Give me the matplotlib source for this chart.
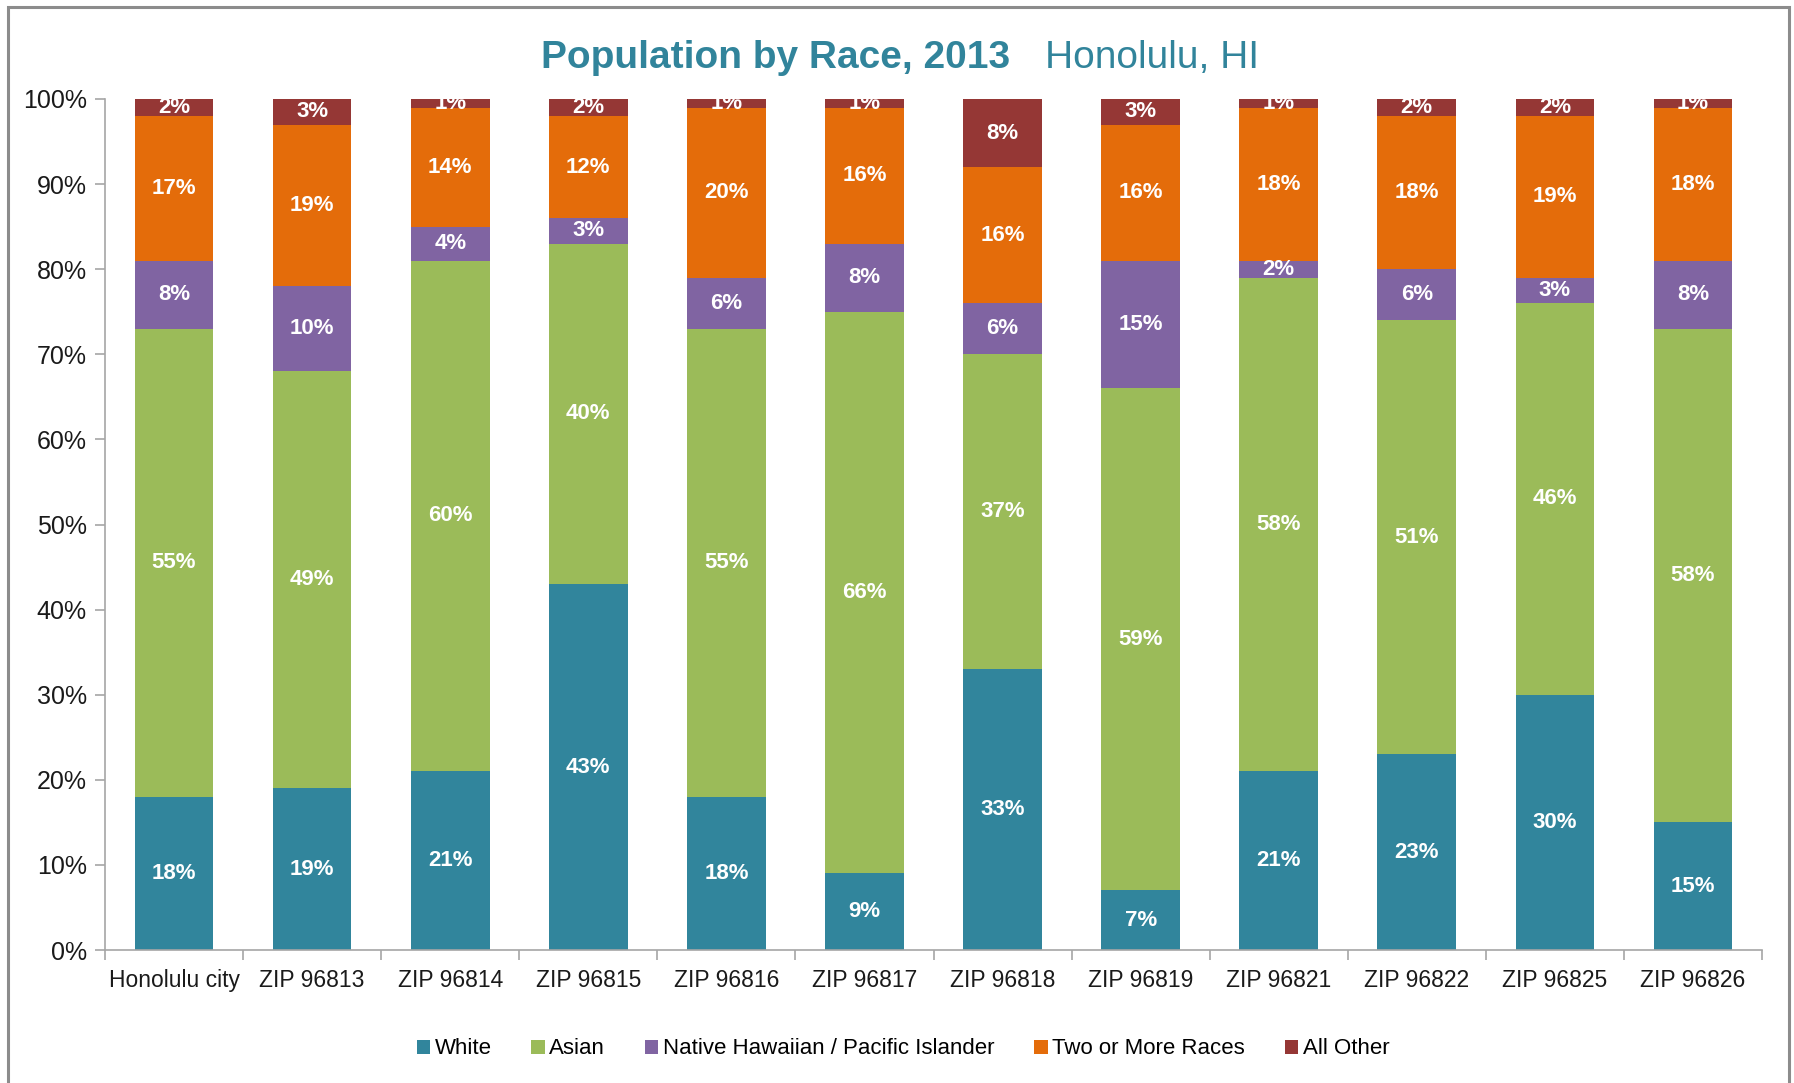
import matplotlib
matplotlib.use("Agg")
import matplotlib.pyplot as plt
import numpy as np
from matplotlib.patches import Rectangle

plt.rcParams['font.family'] = ['Liberation Sans', 'DejaVu Sans']

categories = ["Honolulu city", "ZIP 96813", "ZIP 96814", "ZIP 96815", "ZIP 96816",
              "ZIP 96817", "ZIP 96818", "ZIP 96819", "ZIP 96821", "ZIP 96822",
              "ZIP 96825", "ZIP 96826"]
series_names = ["White", "Asian", "Native Hawaiian / Pacific Islander",
                "Two or More Races", "All Other"]
white = [18, 19, 21, 43, 18, 9, 33, 7, 21, 23, 30, 15]
asian = [55, 49, 60, 40, 55, 66, 37, 59, 58, 51, 46, 58]
nhpi = [8, 10, 4, 3, 6, 8, 6, 15, 2, 6, 3, 8]
two_more = [17, 19, 14, 12, 20, 16, 16, 16, 18, 18, 19, 18]
all_other = [2, 3, 1, 2, 1, 1, 8, 3, 1, 2, 2, 1]
colors = ["#31859C", "#9BBB59", "#8064A2", "#E46C0A", "#953735"]

W, H = 1794, 1083
fig = plt.figure(figsize=(W / 100, H / 100), dpi=100)
ax = fig.add_axes([105 / W, 1 - 950 / H, (1762 - 105) / W, (950 - 99) / H])

data = [white, asian, nhpi, two_more, all_other]
x = np.arange(len(categories))
bottom = np.zeros(len(categories))
for vals, name, col in zip(data, series_names, colors):
    v = np.array(vals, dtype=float)
    ax.bar(x, v, 0.57, bottom=bottom, color=col, label=name, edgecolor='none')
    for xi, b, h in zip(x, bottom, v):
        ax.text(xi, b + h / 2, f"{int(h)}%", ha='center', va='center',
                color='white', fontsize=16, fontweight='bold')
    bottom += v

ax.set_xlim(-0.5, len(categories) - 0.5)
ax.set_ylim(0, 100)
ax.set_yticks(np.arange(0, 101, 10))
ax.set_yticklabels([f"{t}%" for t in range(0, 101, 10)])
ax.set_xticks(x)
ax.set_xticklabels(categories)
ax.set_xticks(np.arange(-0.5, len(categories), 1), minor=True)
ax.tick_params(axis='x', which='major', length=0, labelsize=16.5, pad=14, labelcolor='#1a1a1a')
ax.tick_params(axis='x', which='minor', length=7, color='#A6A6A6', width=1.2)
ax.tick_params(axis='y', length=7, color='#A6A6A6', width=1.2, labelsize=18, pad=6,
               labelcolor='#1a1a1a')
for s in ['top', 'right']:
    ax.spines[s].set_visible(False)
for s in ['left', 'bottom']:
    ax.spines[s].set_color('#A6A6A6')
    ax.spines[s].set_linewidth(1.2)

fig.text(1010 / W, 1 - 58 / H, "Population by Race, 2013", ha='right', va='center',
         fontsize=28, fontweight='bold', color='#31849B')
fig.text(1045 / W, 1 - 58 / H, "Honolulu, HI", ha='left', va='center',
         fontsize=28, color='#31849B')

leg = fig.legend(loc='center', bbox_to_anchor=(903 / W, 1 - 1049 / H), ncol=5,
                 frameon=False, fontsize=16, handlelength=0.6, handleheight=0.6,
                 handletextpad=0.2, columnspacing=1.8)

fig.patches.append(Rectangle((8 / W, -0.05), (1789 - 8) / W, (1.05 - 7 / H),
                             transform=fig.transFigure, fill=False,
                             edgecolor='#8C8C8C', linewidth=2.2))

fig.savefig("out.png", dpi=100)
